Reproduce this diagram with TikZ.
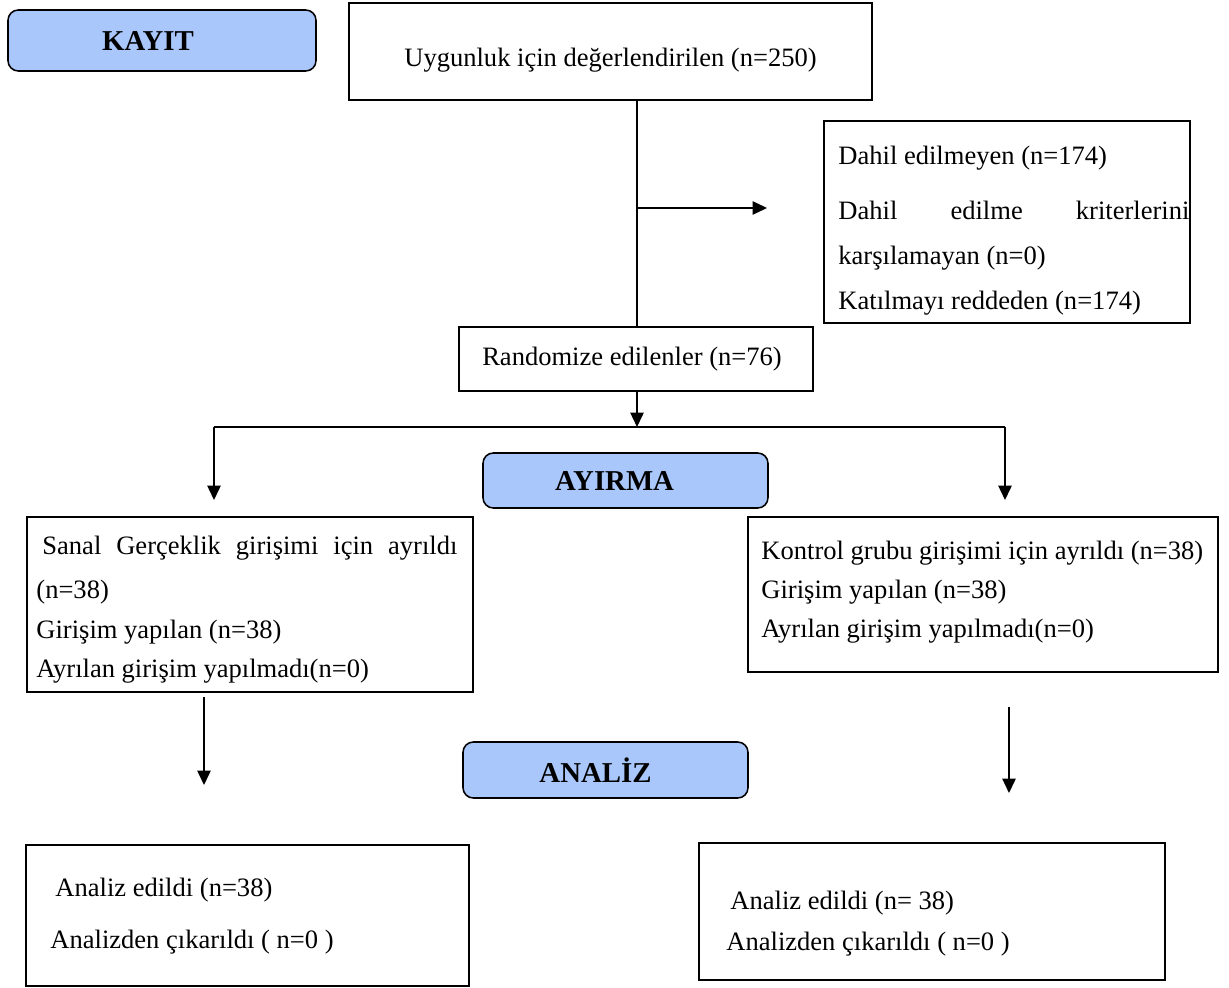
\documentclass[tikz,border=0pt]{standalone}
\usepackage{fontspec}
\setmainfont{Liberation Serif}
\usepackage{tikz}
\usetikzlibrary{positioning, calc, arrows.meta}
\definecolor{phaseblue}{RGB}{169,199,250}
\newdimen\pxu
\pxu=0.486pt

\begin{document}
\begin{tikzpicture}[x=0.486pt, y=-0.486pt]
  \tikzstyle{txt}=[font=\fontsize{12.9}{15}\selectfont, inner sep=0pt]
  \tikzstyle{line}=[txt, anchor=mid west]
  \tikzstyle{box}=[draw, line width=0.75pt, inner sep=0pt, txt]
  \tikzstyle{phase}=[box, rounded corners=5pt, fill=phaseblue,
  font=\fontsize{14}{16}\selectfont\bfseries]
  \tikzstyle{arr}=[-{Triangle[length=7pt, width=6.5pt]}, line width=0.75pt]

  \useasboundingbox (0,0) rectangle (1229,987);

  % phase labels
  \node (kayit) at (162,40.5) [phase, minimum width=308*\pxu, minimum height=61*\pxu] {\kern-28\pxu KAYIT};
  \node (ayirma) at (625.5,480.5) [phase, minimum width=285*\pxu, minimum height=55*\pxu] {\kern-22\pxu AYIRMA};
  \node (analiz) at (605.5,770) [phase, minimum width=285*\pxu, minimum height=56*\pxu] {\kern-20\pxu ANAL\.IZ};

  % enrolment
  \node (elig) at (610.5,51.5) [box, minimum width=523*\pxu, minimum height=97*\pxu]
  {\raisebox{-9\pxu}[\height][\depth]{Uygunluk için değerlendirilen (n=250)}};
  \node (excl) at (1007,222) [box, minimum width=366*\pxu, minimum height=202*\pxu] {};
  \node (excl1) at (838,160) [line] {Dahil edilmeyen (n=174)};
  \node (excl2) at (838,215) [line] {\makebox[351\pxu][s]{Dahil edilme kriterlerini}};
  \node (excl3) at (838,260) [line] {karşılamayan (n=0)};
  \node (excl4) at (838,305) [line] {Katılmayı reddeden (n=174)};
  \node (rand) at (636,359) [box, minimum width=354*\pxu, minimum height=64*\pxu] {\kern-8\pxu Randomize edilenler (n=76)};

  % allocation
  \node (sanal) at (250,604.5) [box, minimum width=446*\pxu, minimum height=175*\pxu] {};
  \node (sanal1) at (42,550) [line] {\makebox[415\pxu][s]{Sanal Gerçeklik girişimi için ayrıldı}};
  \node (sanal2) at (36,594) [line] {(n=38)};
  \node (sanal3) at (36,634) [line] {Girişim yapılan (n=38)};
  \node (sanal4) at (36,673) [line] {Ayrılan girişim yapılmadı(n=0)};

  \node (kontrol) at (983,594.5) [box, minimum width=470*\pxu, minimum height=155*\pxu] {};
  \node (kontrol1) at (761,555) [line] {Kontrol grubu girişimi için ayrıldı (n=38)};
  \node (kontrol2) at (761,594) [line] {Girişim yapılan (n=38)};
  \node (kontrol3) at (761,633) [line] {Ayrılan girişim yapılmadı(n=0)};

  % analysis
  \node (anlsanal) at (247.5,915.5) [box, minimum width=443*\pxu, minimum height=141*\pxu] {};
  \node (anlsanal1) at (55,892) [line] {Analiz edildi (n=38)};
  \node (anlsanal2) at (50,944) [line] {Analizden çıkarıldı ( n=0 )};

  \node (anlkontrol) at (932,911.5) [box, minimum width=466*\pxu, minimum height=137*\pxu] {};
  \node (anlkontrol1) at (730,905) [line] {Analiz edildi (n= 38)};
  \node (anlkontrol2) at (726,946) [line] {Analizden çıkarıldı ( n=0 )};

  % connectors
  \coordinate (split) at (637,208);
  \coordinate (exclin) at (767,208);
  \coordinate (forkl) at (214,427);
  \coordinate (forkr) at (1005,427);
  \coordinate (sanalin) at (214,500);
  \coordinate (kontrolin) at (1005,500);
  \coordinate (sanalout) at (204,697);
  \coordinate (anlsanalin) at (204,785);
  \coordinate (kontrolout) at (1009,707);
  \coordinate (anlkontrolin) at (1009,793);

  \draw[line width=0.75pt] (split |- elig.south) -- (split |- rand.north);
  \draw[arr] (split) -- (exclin);
  \draw[arr] (split |- rand.south) -- (split |- forkl);
  \draw[line width=0.75pt] (forkl) -- (forkr);
  \draw[arr] (forkl) -- (sanalin);
  \draw[arr] (forkr) -- (kontrolin);
  \draw[arr] (sanalout) -- (anlsanalin);
  \draw[arr] (kontrolout) -- (anlkontrolin);

\end{tikzpicture}
\end{document}
